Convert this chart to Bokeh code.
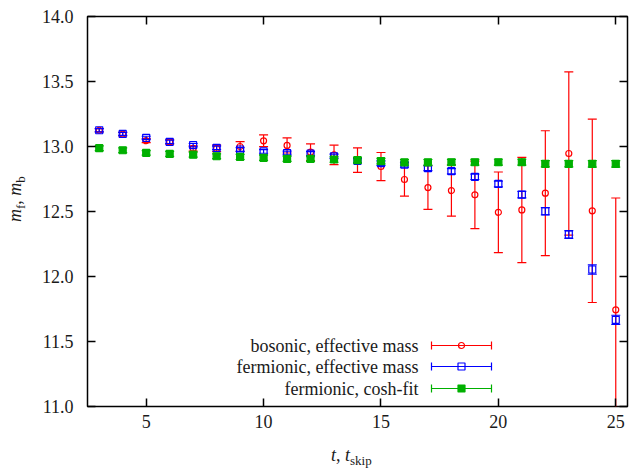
import numpy as np
from bokeh.plotting import figure
from bokeh.models import LinearAxis, FixedTicker, PrintfTickFormatter, CustomJSTickFormatter, Div
from bokeh.layouts import row, column
from bokeh.embed import file_html
from bokeh.resources import INLINE
from bokeh.core.properties import value

# ---------------- data ----------------
t = list(range(3, 26))
boson_m = [13.125, 13.095, 13.045, 13.035, 12.985, 12.985, 13.000, 13.044, 13.008, 12.956,
           12.935, 12.895, 12.846, 12.746, 12.684, 12.661, 12.628, 12.494, 12.512, 12.641,
           12.946, 12.505, 11.744]
boson_err = [0.012, 0.013, 0.015, 0.017, 0.020, 0.025, 0.037, 0.045, 0.058, 0.064,
             0.075, 0.094, 0.108, 0.127, 0.168, 0.197, 0.260, 0.310, 0.405, 0.480,
             0.628, 0.705, 0.860]
ferm_m = [13.125, 13.097, 13.067, 13.036, 13.010, 12.990, 12.977, 12.962, 12.950, 12.945,
          12.925, 12.890, 12.872, 12.860, 12.833, 12.810, 12.767, 12.712, 12.630, 12.502,
          12.323, 12.054, 11.667]
ferm_err = [0.012, 0.012, 0.012, 0.013, 0.013, 0.013, 0.014, 0.014, 0.015, 0.015,
            0.016, 0.017, 0.018, 0.018, 0.019, 0.020, 0.021, 0.022, 0.025, 0.028,
            0.030, 0.035, 0.035]
cosh_m = [12.987, 12.971, 12.951, 12.943, 12.937, 12.925, 12.920, 12.913, 12.905, 12.905,
          12.900, 12.895, 12.888, 12.878, 12.878, 12.879, 12.879, 12.879, 12.879, 12.867,
          12.867, 12.867, 12.867]
cosh_err = [0.018, 0.018, 0.018, 0.019, 0.019, 0.019, 0.020, 0.020, 0.020, 0.020,
            0.021, 0.021, 0.021, 0.022, 0.022, 0.022, 0.022, 0.023, 0.023, 0.024,
            0.024, 0.025, 0.025]

x_ticks = [5, 10, 15, 20, 25]
y_ticks = [11.0, 11.5, 12.0, 12.5, 13.0, 13.5, 14.0]
legend_labels = ["bosonic, effective mass", "fermionic, effective mass", "fermionic, cosh-fit"]

# ---------------- layout ----------------
X0, X1, Y0, Y1 = 2.5, 25.5, 11.0, 14.0
YLAB_W = 30          # width of the y-title strip
XLAB_H = 23          # height of the x-title strip
W, H = 631 - YLAB_W, 471 - XLAB_H
FRAME_L, FRAME_R, FRAME_T, FRAME_B = 87, 627, 16, 406   # page pixels
BL, BR, BT, BB = FRAME_L - YLAB_W, 631 - FRAME_R, FRAME_T, H - FRAME_B
FONT = "Liberation Serif"
TXT = "#1a1a1a"
RED, BLUE, GREEN = "#ff0000", "#0000ff", "#00b000"

def dx(px):
    return X0 + (px - FRAME_L) * (X1 - X0) / (FRAME_R - FRAME_L)
def dy(py):
    return Y1 - (py - FRAME_T) * (Y1 - Y0) / (FRAME_B - FRAME_T)

p = figure(width=W, height=H, x_range=(X0, X1), y_range=(Y0, Y1),
           output_backend="svg", toolbar_location=None,
           min_border_left=BL, min_border_right=BR, min_border_top=BT, min_border_bottom=BB,
           background_fill_color="white", border_fill_color="white", margin=0)
p.xgrid.visible = False
p.ygrid.visible = False
p.outline_line_color = "black"
p.outline_line_width = 1.5
p.outline_line_alpha = 1.0

def style_axis(ax, ticks, fmt, show_labels, standoff):
    ax.ticker = FixedTicker(ticks=ticks)
    ax.axis_line_color = None
    ax.major_tick_in = 8
    ax.major_tick_out = 0
    ax.major_tick_line_color = "black"
    ax.major_tick_line_width = 1.5
    ax.minor_tick_line_color = None
    ax.major_label_text_font = FONT
    ax.major_label_text_color = TXT
    if show_labels:
        ax.formatter = PrintfTickFormatter(format=fmt)
        ax.major_label_text_font_size = "18px"
        ax.major_label_standoff = standoff
    else:
        ax.formatter = CustomJSTickFormatter(code="return ''")
        ax.major_label_text_font_size = "1px"
        ax.major_label_standoff = 0

style_axis(p.xaxis[0], x_ticks, "%d", True, 8)
style_axis(p.yaxis[0], y_ticks, "%.1f", True, 14)
top_ax = LinearAxis()
right_ax = LinearAxis()
style_axis(top_ax, x_ticks, "%d", False, 0)
style_axis(right_ax, y_ticks, "%.1f", False, 0)
p.add_layout(top_ax, "above")
p.add_layout(right_ax, "right")

def series(m, err, color, marker, fill, size):
    m = np.array(m)
    err = np.array(err)
    lo, hi = m - err, m + err
    p.segment(x0=t, y0=lo, x1=t, y1=hi, line_color=color, line_width=1.2)
    p.scatter(x=t, y=hi, marker="dash", size=9, line_color=color, line_width=1.2)
    p.scatter(x=t, y=lo, marker="dash", size=9, line_color=color, line_width=1.2)
    p.scatter(x=t, y=m, marker=marker, size=size, line_color=color,
              fill_color=fill, line_width=1.2)

series(boson_m, boson_err, RED, "circle", None, 6)
series(ferm_m, ferm_err, BLUE, "square", None, 7)
series(cosh_m, cosh_err, GREEN, "square", GREEN, 7)

# ---------------- key ----------------
leg_rows = [345, 366, 388]
leg_colors = [RED, BLUE, GREEN]
leg_markers = [("circle", None, 6), ("square", None, 7), ("square", GREEN, 7)]
lx_text = dx(418)
lx0, lx1, lxm = dx(431), dx(491), dx(461)
for lab, rowy, col, (mk, fc, sz) in zip(legend_labels, leg_rows, leg_colors, leg_markers):
    yy = dy(rowy)
    p.text(x=[lx_text], y=[yy], text=[lab], text_align="right", text_baseline="middle",
           text_font=value(FONT), text_font_size="18px", text_color=TXT)
    p.segment(x0=[lx0], y0=[yy], x1=[lx1], y1=[yy], line_color=col, line_width=1.2)
    p.scatter(x=[lx0, lx1], y=[yy, yy], marker="dash", angle=np.pi / 2, size=8,
              line_color=col, line_width=1.2)
    p.scatter(x=[lxm], y=[yy], marker=mk, size=sz, line_color=col, fill_color=fc, line_width=1.2)

# ---------------- axis titles (HTML text strips) ----------------
base = f"font-family:'{FONT}';font-size:18px;line-height:18px;color:{TXT};white-space:nowrap;"
sub = "font-size:13px;position:relative;top:4px;font-style:normal;"

x_html = (f'<div style="position:relative;width:{W}px;height:{XLAB_H}px;">'
          f'<span style="position:absolute;left:{331 - YLAB_W}px;top:-2px;{base}">'
          f'<i>t</i>, <i>t</i><span style="{sub}">skip</span></span></div>')
y_html = (f'<div style="position:relative;width:{YLAB_W}px;height:{H}px;">'
          f'<span style="position:absolute;left:6px;top:222px;transform:rotate(-90deg);'
          f'transform-origin:0 0;{base}">'
          f'<i>m</i><span style="{sub}">f</span>, <i>m</i><span style="{sub}">b</span>'
          f'</span></div>')

xdiv = Div(text=x_html, width=W, height=XLAB_H, margin=0, styles={"overflow": "visible"})
ydiv = Div(text=y_html, width=YLAB_W, height=H, margin=0, styles={"overflow": "visible"})

layout = row(ydiv, column(p, xdiv, spacing=0, margin=0), spacing=0, margin=0)

open("out.html", "w").write(file_html(layout, INLINE))
